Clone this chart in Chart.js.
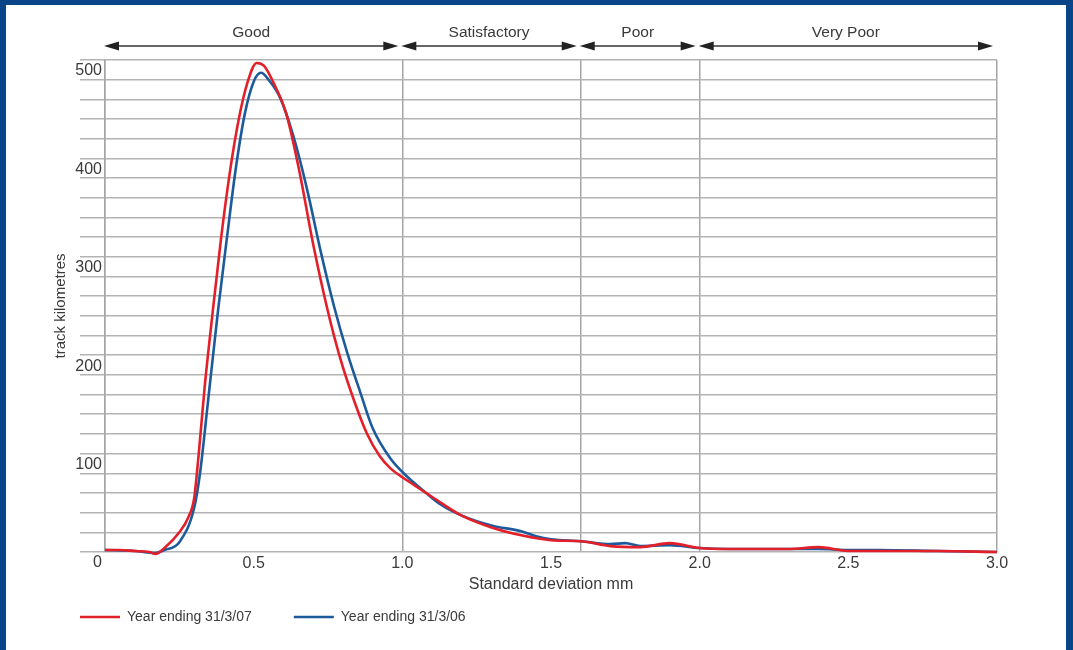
<!DOCTYPE html>
<html>
<head>
<meta charset="utf-8">
<script src="https://cdn.jsdelivr.net/npm/chart.js@4.4.1/dist/chart.umd.min.js"></script>
<style>
  html, body { margin: 0; padding: 0; background: #fff; }
  .frame {
    position: relative; width: 1073px; height: 650px; box-sizing: border-box;
    border-top: 5px solid #0a4588; border-left: 6px solid #0a4588; border-right: 7px solid #0a4588;
    background: #fff; overflow: hidden;
  }
  .plot { position: absolute; left: 0; top: 0; width: 1060px; height: 645px; }
</style>
</head>
<body>
<div class="frame"><div class="plot"><canvas id="sd-chart"></canvas></div></div>
<script>
// standard deviation (mm) vs track kilometres
const sd07 = [0, 0.05, 0.1, 0.15, 0.17, 0.2, 0.25, 0.28, 0.3, 0.315, 0.335, 0.36, 0.39, 0.42, 0.45, 0.48, 0.51, 0.535, 0.565, 0.61, 0.655, 0.7, 0.747, 0.79, 0.834, 0.88, 0.925, 0.96, 1.0, 1.04, 1.08, 1.13, 1.2, 1.3, 1.4, 1.5, 1.6, 1.7, 1.8, 1.9, 2.0, 2.1, 2.2, 2.3, 2.4, 2.5, 2.6, 2.8, 3.0];
const km07 = [2, 2, 1, 0, -2, 4, 20, 35, 55, 99, 167, 238, 318, 386, 440, 478, 497, 494, 478, 445, 385, 313, 248, 198, 157, 121, 97, 85, 76, 68, 60, 50, 37, 25, 17, 12, 11, 6, 5, 9, 4, 3, 3, 3, 5, 1, 1, 1, 0];

const sd06 = [0, 0.1, 0.17, 0.2, 0.25, 0.3, 0.32, 0.345, 0.38, 0.41, 0.44, 0.47, 0.5, 0.525, 0.55, 0.59, 0.635, 0.68, 0.725, 0.77, 0.815, 0.86, 0.9, 0.96, 1.015, 1.08, 1.13, 1.2, 1.3, 1.4, 1.45, 1.5, 1.6, 1.7, 1.75, 1.8, 1.9, 2.0, 2.1, 2.2, 2.3, 2.4, 2.5, 2.6, 2.8, 3.0];
const km06 = [2, 1, -1, 2, 10, 45, 81, 149, 245, 319, 390, 445, 478, 487, 480, 461, 421, 368, 306, 250, 202, 161, 126, 95, 77, 60, 48, 37, 27, 21, 16, 13, 11, 8, 9, 6, 7, 4, 3, 3, 3, 3, 2, 2, 1, 0];

const seriesNames = ['Year ending 31/3/07', 'Year ending 31/3/06'];
const xTickLabels = [0.5, 1, 1.5, 2, 2.5, 3];
const yTickLabels = [0, 100, 200, 300, 400, 500];
const bandEdges = [0, 1.0, 1.6, 2.0, 3.0];
const bandNames = ['Good', 'Satisfactory', 'Poor', 'Very Poor'];

const FONT = '"Liberation Sans", Arial, Helvetica, sans-serif';
const TEXT = '#3a3a3a';
const GRID = '#b3b3b3';

Chart.defaults.font.family = FONT;
Chart.defaults.color = TEXT;

const arrowhead = (ctx, tipX, y, dir) => {
  ctx.beginPath();
  ctx.moveTo(tipX, y);
  ctx.lineTo(tipX + dir * 15, y - 4.5);
  ctx.lineTo(tipX + dir * 15, y + 4.5);
  ctx.closePath();
  ctx.fill();
};

// quality bands with double arrows above the plot
const bandArrows = {
  id: 'bandArrows',
  afterDraw(chart) {
    const { ctx, scales: { x } } = chart;
    const y = 41;
    ctx.save();
    ctx.strokeStyle = '#333';
    ctx.lineWidth = 1.3;
    ctx.font = '15.5px ' + FONT;
    ctx.textAlign = 'center';
    ctx.textBaseline = 'middle';
    bandNames.forEach((name, i) => {
      const x0 = x.getPixelForValue(bandEdges[i]) - 1;
      const x1 = x.getPixelForValue(bandEdges[i + 1]) - 4;
      ctx.beginPath();
      ctx.moveTo(x0 + 10, y);
      ctx.lineTo(x1 - 10, y);
      ctx.stroke();
      ctx.fillStyle = '#222';
      arrowhead(ctx, x0, y, 1);
      arrowhead(ctx, x1, y, -1);
      ctx.fillStyle = TEXT;
      ctx.fillText(name, (x0 + x1) / 2, 28);
    });
    ctx.restore();
  }
};

// line key under the x axis title
const seriesKey = {
  id: 'seriesKey',
  afterDraw(chart) {
    const { ctx, chartArea } = chart;
    let cx = chartArea.left - 25;
    const cy = 612;
    ctx.save();
    ctx.font = '14px ' + FONT;
    ctx.textAlign = 'left';
    ctx.textBaseline = 'middle';
    chart.data.datasets.forEach(ds => {
      ctx.strokeStyle = ds.borderColor;
      ctx.lineWidth = 2.5;
      ctx.beginPath();
      ctx.moveTo(cx, cy);
      ctx.lineTo(cx + 40, cy);
      ctx.stroke();
      ctx.fillStyle = TEXT;
      ctx.fillText(ds.label, cx + 47, cy);
      cx += 47 + ctx.measureText(ds.label).width + 42;
    });
    ctx.restore();
  }
};

const toPoints = (xs, ys) => xs.map((x, i) => ({ x, y: ys[i] }));

new Chart(document.getElementById('sd-chart'), {
  type: 'line',
  data: {
    datasets: [
      {
        label: seriesNames[0],
        data: toPoints(sd07, km07),
        borderColor: '#e3202a',
        borderWidth: 2.6,
        pointRadius: 0,
        cubicInterpolationMode: 'monotone',
        fill: false,
        clip: 4
      },
      {
        label: seriesNames[1],
        data: toPoints(sd06, km06),
        borderColor: '#1d5a9c',
        borderWidth: 2.6,
        pointRadius: 0,
        cubicInterpolationMode: 'monotone',
        fill: false,
        clip: 4
      }
    ]
  },
  options: {
    responsive: true,
    maintainAspectRatio: false,
    animation: false,
    layout: { padding: { left: 42, right: 69, top: 55, bottom: 56 } },
    plugins: {
      legend: { display: false },
      tooltip: { enabled: false }
    },
    scales: {
      x: {
        type: 'linear',
        min: 0,
        max: 3,
        afterBuildTicks: axis => {
          const vals = [...new Set([...xTickLabels, ...bandEdges])].sort((a, b) => a - b);
          axis.ticks = vals.map(v => ({ value: v }));
        },
        afterFit: axis => { axis.height = 42; },
        ticks: {
          autoSkip: false,
          maxRotation: 0,
          padding: 2,
          color: TEXT,
          font: { size: 16 },
          // the 0 at the origin is the y axis label
          callback: v => xTickLabels.includes(v) ? v.toFixed(1) : ''
        },
        grid: {
          drawTicks: false,
          lineWidth: 1.5,
          color: c => (c.tick && bandEdges.includes(c.tick.value)) ? '#a5a5a5' : 'rgba(0,0,0,0)'
        },
        border: { display: false },
        title: {
          display: true,
          text: 'Standard deviation mm',
          color: TEXT,
          font: { size: 16 },
          padding: { top: 0, bottom: 0 }
        }
      },
      y: {
        min: 0,
        max: 500,
        afterFit: axis => { axis.width = 57; },
        ticks: {
          stepSize: 20,
          autoSkip: false,
          padding: -22,
          labelOffset: 11,
          color: TEXT,
          font: { size: 16 },
          callback: v => yTickLabels.includes(v) ? String(v) : ''
        },
        grid: { color: GRID, lineWidth: 1.5, tickLength: 25 },
        border: { display: true, color: '#a5a5a5', width: 1.5 },
        title: {
          display: true,
          text: 'track kilometres',
          color: TEXT,
          font: { size: 15 },
          padding: { top: 4, bottom: 4 }
        }
      }
    }
  },
  plugins: [bandArrows, seriesKey]
});
</script>
</body>
</html>
